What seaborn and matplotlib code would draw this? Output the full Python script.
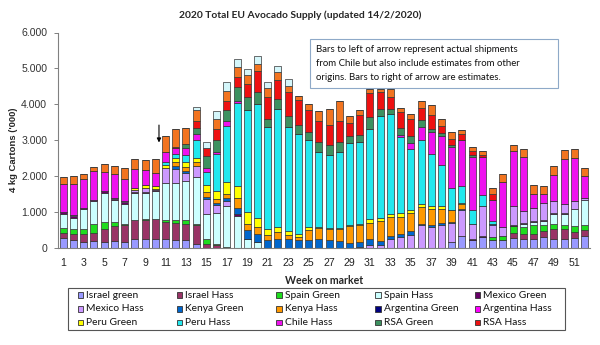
import matplotlib
matplotlib.use("Agg")
import matplotlib.pyplot as plt
from matplotlib.patches import Rectangle
import numpy as np
import pandas as pd
import seaborn as sns

weeks = list(range(1, 53))

israel_green = [280, 215, 170, 185, 170, 185, 170, 260, 260, 260, 260, 230, 215, 120, 0, 0, 0, 0, 0, 0,
                0, 0, 0, 0, 0, 0, 0, 0, 0, 0, 0, 0, 0, 0, 0, 0, 0, 0, 165, 325,
                215, 305, 215, 230, 280, 260, 260, 305, 260, 260, 290, 325]
israel_hass = [140, 165, 210, 235, 370, 415, 460, 510, 530, 540, 465, 465, 445, 510, 120, 90, 0, 0, 0, 0,
               0, 0, 0, 0, 0, 0, 0, 0, 0, 0, 0, 0, 0, 0, 0, 0, 0, 0, 0, 0,
               0, 0, 0, 0, 145, 140, 140, 170, 280, 280, 155, 185]
spain_green = [145, 140, 140, 240, 185, 125, 50, 20, 20, 15, 65, 75, 110, 45, 140, 30, 30, 0, 0, 0,
               0, 0, 0, 0, 0, 0, 0, 0, 0, 0, 0, 0, 0, 0, 0, 0, 0, 0, 0, 0,
               0, 0, 90, 95, 190, 185, 230, 155, 140, 110, 160, 140]
spain_hass = [390, 325, 555, 650, 815, 605, 555, 740, 720, 765, 1010, 1050, 1095, 1300, 700, 865, 1140, 890, 260, 170,
              0, 0, 0, 0, 0, 0, 0, 0, 0, 0, 0, 0, 0, 0, 0, 0, 0, 0, 0, 0,
              0, 0, 0, 0, 0, 75, 85, 120, 260, 290, 490, 695]
mexico_green = [35, 40, 40, 35, 45, 35, 45, 40, 40, 40, 0, 0, 0, 0, 0, 0, 0, 60, 0, 0,
                0, 0, 0, 0, 0, 0, 0, 0, 0, 0, 0, 0, 0, 0, 0, 0, 0, 0, 0, 0,
                30, 30, 0, 20, 30, 25, 25, 20, 25, 25, 0, 0]
mexico_hass = [0, 25, 0, 0, 0, 35, 20, 55, 110, 20, 440, 390, 225, 300, 415, 205, 130, 0, 0, 0,
               0, 0, 0, 0, 0, 0, 0, 0, 0, 30, 95, 95, 240, 305, 370, 630, 585, 630, 530, 725,
               415, 835, 325, 240, 525, 345, 380, 485, 340, 250, 215, 55]
kenya_green = [0, 0, 0, 0, 0, 0, 0, 0, 0, 0, 0, 65, 55, 0, 45, 75, 95, 160, 230, 230,
               215, 260, 260, 215, 215, 240, 215, 185, 150, 135, 145, 90, 95, 95, 115, 50, 65, 75, 40, 45,
               0, 0, 30, 0, 0, 0, 0, 0, 0, 0, 0, 0]
kenya_hass = [0, 0, 0, 0, 0, 0, 0, 0, 0, 0, 0, 110, 110, 110, 140, 110, 95, 280, 190, 185,
              140, 185, 95, 90, 280, 315, 305, 335, 465, 465, 465, 560, 530, 465, 500, 460, 445, 370, 315, 140,
              0, 0, 0, 0, 0, 0, 0, 0, 0, 0, 0, 0]
argentina_green = [0] * 52
argentina_hass = [0] * 52
peru_green = [0, 0, 0, 0, 0, 0, 0, 45, 65, 80, 60, 110, 140, 130, 185, 205, 350, 350, 325, 250,
              185, 140, 110, 95, 85, 30, 40, 35, 35, 50, 95, 90, 90, 110, 65, 95, 75, 95, 20, 20,
              0, 0, 0, 0, 0, 0, 0, 0, 0, 0, 0, 0]
peru_hass = [0, 0, 0, 0, 0, 0, 0, 0, 0, 0, 100, 110, 185, 500, 370, 1050, 1560, 2300, 2830, 3185,
             2830, 3295, 2905, 2785, 2420, 2090, 2040, 2120, 2285, 2275, 2525, 2840, 2785, 2115, 1715, 1765, 1460, 1135, 610, 465,
             410, 300, 95, 0, 0, 0, 0, 0, 0, 0, 0, 0]
chile_hass = [800, 865, 815, 790, 530, 650, 630, 540, 420, 370, 280, 170, 215, 150, 110, 45, 130, 65, 0, 0,
              0, 0, 0, 0, 0, 0, 0, 0, 0, 0, 0, 0, 0, 65, 170, 370, 600, 815, 1135, 1280,
              1455, 1055, 575, 1265, 1520, 1500, 385, 240, 720, 1275, 1205, 595]
rsa_green = [0, 0, 0, 0, 0, 0, 0, 0, 0, 0, 0, 0, 95, 185, 325, 325, 325, 370, 370, 325,
             235, 260, 310, 250, 230, 280, 260, 280, 185, 200, 325, 205, 140, 190, 185, 185, 95, 90, 65, 0,
             75, 0, 0, 0, 0, 0, 0, 0, 0, 0, 0, 0]
rsa_hass = [0, 0, 0, 0, 0, 0, 0, 0, 0, 0, 0, 50, 0, 190, 230, 325, 230, 280, 370, 575,
            600, 530, 670, 680, 605, 575, 575, 575, 355, 560, 675, 465, 325, 445, 485, 345, 370, 190, 165, 185,
            90, 75, 185, 0, 0, 0, 0, 0, 0, 0, 0, 0]
colombia_hass = [190, 230, 140, 120, 235, 235, 310, 280, 275, 400, 430, 480, 460, 315, 0, 280, 300, 280, 235, 215,
                 260, 230, 160, 110, 185, 280, 445, 555, 205, 120, 110, 95, 215, 110, 130, 205, 280, 185, 185, 95,
                 110, 90, 165, 200, 185, 240, 240, 230, 250, 250, 250, 240]
morocco_hass = [0, 0, 0, 0, 0, 0, 0, 0, 0, 0, 0, 0, 0, 75, 170, 200, 240, 230, 185, 215,
                160, 170, 190, 0, 0, 0, 0, 0, 0, 0, 0, 0, 0, 0, 0, 0, 0, 0, 0, 0,
                0, 0, 0, 0, 0, 0, 0, 0, 0, 0, 0, 0]

# origin name -> (values, colour); bottom of each stack first
origins = {
    "Israel green": (israel_green, "#9999FF"),
    "Israel Hass": (israel_hass, "#993366"),
    "Spain Green": (spain_green, "#1EDC1E"),
    "Spain Hass": (spain_hass, "#CCFFFF"),
    "Mexico Green": (mexico_green, "#660066"),
    "Mexico Hass": (mexico_hass, "#CC99FF"),
    "Kenya Green": (kenya_green, "#0066CC"),
    "Kenya Hass": (kenya_hass, "#FF9900"),
    "Argentina Green": (argentina_green, "#000080"),
    "Argentina Hass": (argentina_hass, "#FF00FF"),
    "Peru Green": (peru_green, "#FFFF00"),
    "Peru Hass": (peru_hass, "#22E8EE"),
    "Chile Hass": (chile_hass, "#EE11EE"),
    "RSA Green": (rsa_green, "#3D9160"),
    "RSA Hass": (rsa_hass, "#EE1111"),
    "Colombia Hass": (colombia_hass, "#F27420"),
    "Morocco Hass": (morocco_hass, "#D4F6FA"),
}
legend_names = list(origins)[:15]

rows = []
for name, (vals, _) in origins.items():
    for w, v in zip(weeks, vals):
        rows.append({"week": w, "origin": name, "cartons": v})
df = pd.DataFrame(rows)
palette = {k: c for k, (_, c) in origins.items()}

sns.set_style("white")
plt.rcParams["font.family"] = ["Liberation Sans", "DejaVu Sans"]

fig = plt.figure(figsize=(6, 3.45), dpi=100)
W, H = 600, 345
ax = fig.add_axes([58.2 / W, 1 - 248 / H, (589.7 - 58.2) / W, (248 - 32.5) / H])

# seaborn stacks so that the first hue level ends on top
stack_order = list(origins)[::-1]
sns.histplot(data=df, x="week", weights="cartons", hue="origin", hue_order=stack_order,
             palette=palette, multiple="stack", discrete=True, shrink=0.68,
             edgecolor="#333333", linewidth=0.5, alpha=1, legend=False, ax=ax)

ax.set_xlim(0.5, 52.5)
ax.set_ylim(0, 6000)
yt = np.arange(0, 6001, 1000)
ax.set_yticks(yt)
ax.set_yticklabels([f"{v:,}".replace(",", ".") for v in yt], fontsize=7.6, color="#333333")
ax.set_xticks(range(1, 53, 2))
ax.set_xticklabels([str(w) for w in range(1, 53, 2)], fontsize=7.6, color="#222222")
ax.set_xticks(np.arange(0.5, 53, 1), minor=True)
ax.tick_params(axis="x", which="major", length=0, pad=7)
ax.tick_params(axis="x", which="minor", length=3, color="#808080", width=0.7, direction="out")
ax.tick_params(axis="y", which="major", length=3, color="#808080", width=0.7, direction="out", pad=5)
ax.tick_params(bottom=True, left=True)
for s in ("top", "right"):
    ax.spines[s].set_visible(False)
for s in ("left", "bottom"):
    ax.spines[s].set_color("#808080")
    ax.spines[s].set_linewidth(0.8)

ax.set_ylabel("")
ax.set_xlabel("Week on market", fontsize=7.6, fontweight="bold", family=["Lato", "DejaVu Sans"], labelpad=5)
fig.text(14 / W, 1 - 150 / H, "4 kg Cartons ('000)", rotation=90, ha="center", va="center",
         fontsize=6.8, fontweight="bold")
fig.text(300 / W, 1 - 15 / H, "2020 Total EU Avocado Supply (updated 14/2/2020)", ha="center", va="center",
         fontsize=7.4, fontweight="bold", family=["Lato", "DejaVu Sans"])

# arrow marking the split between shipments and estimates
ax.annotate("", xy=(10.36, 2860), xytext=(10.36, 3500),
            arrowprops=dict(arrowstyle="-|>", color="black", lw=0.8, mutation_scale=6))

# note box
fig.patches.append(Rectangle((310 / W, 1 - 88 / H), 248 / W, 49 / H, transform=fig.transFigure,
                             facecolor="white", edgecolor="#8EA9C8", linewidth=0.8))
note = ["Bars to left of arrow represent actual shipments",
        "from Chile but also include estimates from other",
        "origins. Bars to right of arrow are estimates."]
for i, line in enumerate(note):
    fig.text(316 / W, 1 - (49 + 14 * i) / H, line, ha="left", va="center", fontsize=6.9,
             family=["Lato", "DejaVu Sans"], color="#111111")

# legend box, five columns by three rows
fig.patches.append(Rectangle((68 / W, 1 - 330 / H), 497 / W, 42 / H, transform=fig.transFigure,
                             facecolor="white", edgecolor="#555555", linewidth=0.8))
for i, name in enumerate(legend_names):
    r, c = divmod(i, 5)
    x0 = 77.5 + 99.3 * c
    y0 = 295 + 13.8 * r
    fig.patches.append(Rectangle((x0 / W, 1 - (y0 + 2.7) / H), 5.5 / W, 5.5 / H, transform=fig.transFigure,
                                 facecolor=palette[name], edgecolor="#333333", linewidth=0.6))
    fig.text((x0 + 8.5) / W, 1 - y0 / H, name, ha="left", va="center", fontsize=7.4,
             family=["Lato", "DejaVu Sans"], color="#111111")

fig.savefig("out.png", dpi=100)
